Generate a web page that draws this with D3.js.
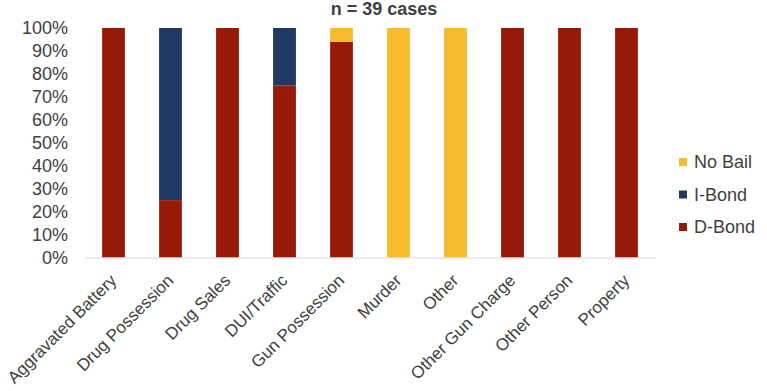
<!DOCTYPE html>
<html>
<head>
<meta charset="utf-8">
<script src="https://cdn.jsdelivr.net/npm/d3@7/dist/d3.min.js"></script>
<style>
  html, body { margin: 0; padding: 0; background: #fff; }
  svg { display: block; font-family: "Liberation Sans", Arial, sans-serif; }
</style>
</head>
<body>
<svg id="chart" width="767" height="391"></svg>
<script>
// Offense categories along the x axis
const categories = [
  "Aggravated Battery", "Drug Possession", "Drug Sales", "DUI/Traffic",
  "Gun Possession", "Murder", "Other", "Other Gun Charge", "Other Person", "Property"
];
// Share of cases per bond type (percent)
const dBond  = [100, 25, 100, 75, 94, 0, 0, 100, 100, 100];
const iBond  = [0, 75, 0, 25, 0, 0, 0, 0, 0, 0];
const noBail = [0, 0, 0, 0, 6, 100, 100, 0, 0, 0];

const seriesNames = ["D-Bond", "I-Bond", "No Bail"];
const seriesColors = ["#961a07", "#1f3864", "#f6bc2e"];
const yTicks = [0, 10, 20, 30, 40, 50, 60, 70, 80, 90, 100];
const title = "n = 39 cases";

const rows = categories.map((c, i) => ({
  category: c, "D-Bond": dBond[i], "I-Bond": iBond[i], "No Bail": noBail[i]
}));

const svg = d3.select("#chart");
const plotLeft = 85, plotRight = 655, plotTop = 28, plotBottom = 257.5;

const x = d3.scaleBand().domain(categories).range([plotLeft, plotRight]).paddingInner(0.6).paddingOuter(0.3);
const y = d3.scaleLinear().domain([0, 100]).range([plotBottom, plotTop]);
const color = d3.scaleOrdinal().domain(seriesNames).range(seriesColors);

const stacked = d3.stack().keys(seriesNames)(rows);

// Stacked bars
svg.append("g").selectAll("g")
  .data(stacked).join("g")
  .attr("fill", d => color(d.key))
  .selectAll("rect")
  .data(d => d).join("rect")
  .attr("x", d => x(d.data.category))
  .attr("width", x.bandwidth())
  .attr("y", d => y(d[1]))
  .attr("height", d => y(d[0]) - y(d[1]));

// Category axis (baseline only, rotated labels)
const xAxis = svg.append("g")
  .attr("transform", `translate(0,${plotBottom})`)
  .call(d3.axisBottom(x).tickSize(0).tickPadding(0));
xAxis.select(".domain").attr("stroke", "#d9d9d9").attr("stroke-width", 1.2);
xAxis.selectAll("text")
  .attr("fill", "#404040")
  .attr("font-size", "17px")
  .attr("text-anchor", "end")
  .attr("dy", 0)
  .attr("transform", "translate(4,24) rotate(-45)");

// Value axis labels
const yAxis = svg.append("g")
  .attr("transform", `translate(${plotLeft},0)`)
  .call(d3.axisLeft(y).tickValues(yTicks).tickFormat(d => d + "%").tickSize(0).tickPadding(17));
yAxis.select(".domain").remove();
yAxis.selectAll("text").attr("fill", "#404040").attr("font-size", "18px");

// Title
svg.append("text")
  .attr("x", 384).attr("y", 14.5)
  .attr("text-anchor", "middle")
  .attr("font-size", "18px")
  .attr("font-weight", "bold")
  .attr("fill", "#404040")
  .text(title);

// Legend, top entry is the top of the stack
const legendOrder = ["No Bail", "I-Bond", "D-Bond"];
const legend = svg.append("g").selectAll("g")
  .data(legendOrder).join("g")
  .attr("transform", (d, i) => `translate(679,${162 + i * 32.5})`);
legend.append("rect")
  .attr("x", 0).attr("y", -4).attr("width", 8).attr("height", 8)
  .attr("fill", d => color(d));
legend.append("text")
  .attr("x", 15).attr("y", 0).attr("dy", "0.35em")
  .attr("font-size", "18px")
  .attr("fill", "#404040")
  .text(d => d);
</script>
</body>
</html>
